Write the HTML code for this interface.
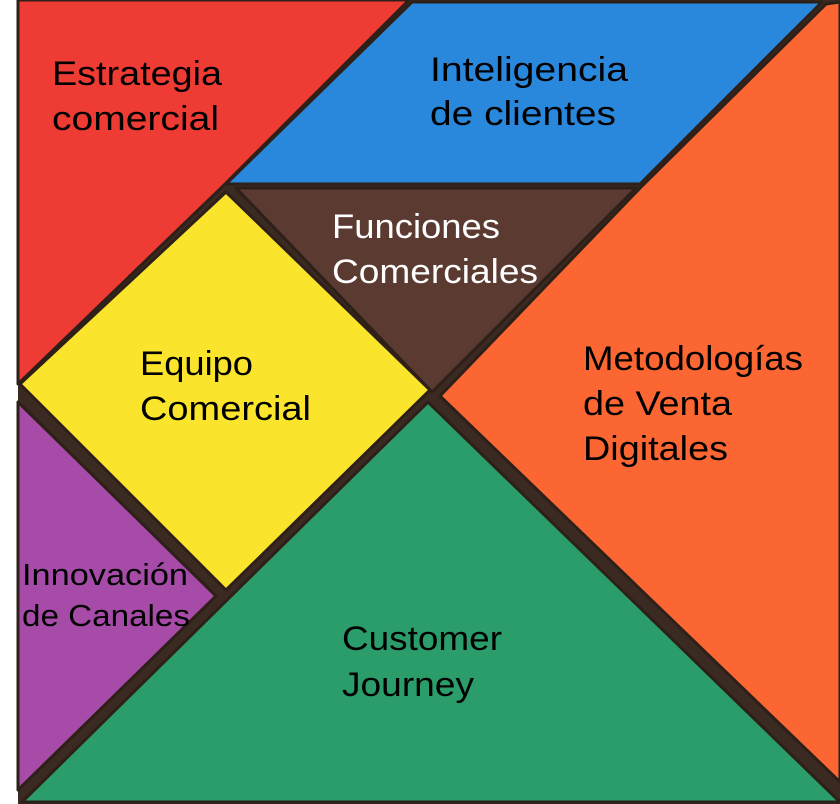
<!DOCTYPE html>
<html><head><meta charset="utf-8">
<style>
html,body{margin:0;padding:0;background:#fff;}
svg{display:block;}
text{font-family:"Liberation Sans","DejaVu Sans",sans-serif;font-size:34px;}
</style></head>
<body>
<svg width="840" height="804" viewBox="0 0 840 804" xmlns="http://www.w3.org/2000/svg">
<rect x="0" y="0" width="840" height="804" fill="#fff"/>
<rect x="18" y="0" width="822" height="804" fill="#3b2a22"/>
<g stroke="#2e2018" stroke-width="3" stroke-linejoin="round">
<polygon points="18,0 409,0 222,187 18,384" fill="#ee3b34"/>
<polygon points="412,2 822,2 640,184 226,184" fill="#2a88dc"/>
<polygon points="826,4 840,2 840,782 440,396 642,186" fill="#fb6632"/>
<polygon points="236,188 636,188 432,392" fill="#5a3a31"/>
<polygon points="226,192 430,390 226,590 20,384" fill="#fbe52c"/>
<polygon points="18,402 216,596 18,790" fill="#a74ba9"/>
<polygon points="428,402 840,802 22,802" fill="#2b9d6b"/>
</g>
<g fill="#000" lengthAdjust="spacingAndGlyphs">
<text x="52" y="85" textLength="170" lengthAdjust="spacingAndGlyphs">Estrategia</text>
<text x="52" y="130" textLength="167" lengthAdjust="spacingAndGlyphs">comercial</text>
<text x="430" y="81" textLength="198" lengthAdjust="spacingAndGlyphs">Inteligencia</text>
<text x="430" y="125" textLength="186" lengthAdjust="spacingAndGlyphs">de clientes</text>
<text x="140" y="375" textLength="113" lengthAdjust="spacingAndGlyphs">Equipo</text>
<text x="140" y="420" textLength="171" lengthAdjust="spacingAndGlyphs">Comercial</text>
<text x="583" y="370" textLength="220" lengthAdjust="spacingAndGlyphs">Metodologías</text>
<text x="583" y="415" textLength="149" lengthAdjust="spacingAndGlyphs">de Venta</text>
<text x="583" y="460" textLength="145" lengthAdjust="spacingAndGlyphs">Digitales</text>
<text x="22" y="585" style="font-size:31px" textLength="166" lengthAdjust="spacingAndGlyphs">Innovación</text>
<text x="22" y="626" style="font-size:31px" textLength="168" lengthAdjust="spacingAndGlyphs">de Canales</text>
<text x="342" y="650" textLength="160" lengthAdjust="spacingAndGlyphs">Customer</text>
<text x="342" y="696" textLength="132" lengthAdjust="spacingAndGlyphs">Journey</text>
</g>
<g fill="#fff">
<text x="332" y="238" textLength="168" lengthAdjust="spacingAndGlyphs">Funciones</text>
<text x="332" y="283" textLength="206" lengthAdjust="spacingAndGlyphs">Comerciales</text>
</g>
</svg>
</body></html>
